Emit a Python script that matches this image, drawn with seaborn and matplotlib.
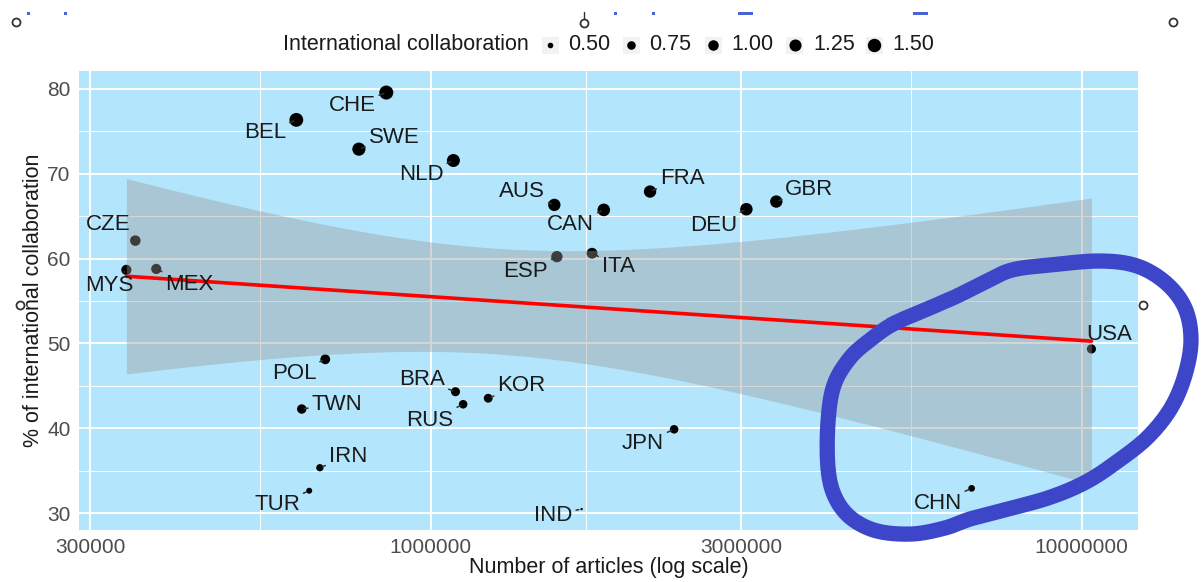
import numpy as np
import pandas as pd
import matplotlib
matplotlib.use("Agg")
import matplotlib.pyplot as plt
from matplotlib.lines import Line2D
from matplotlib.patches import Rectangle
from matplotlib.ticker import FixedLocator, NullFormatter
import seaborn as sns

# ---------------------------------------------------------------- data
countries = ["CHE", "BEL", "SWE", "NLD", "AUS", "CAN", "FRA", "DEU", "GBR",
             "ESP", "ITA", "CZE", "MYS", "MEX", "POL", "TWN", "IRN", "TUR",
             "BRA", "RUS", "KOR", "JPN", "IND", "USA", "CHN"]
articles = [855000, 622000, 776000, 1084000, 1549000, 1845000, 2173000,
            3055000, 3396000, 1563000, 1770000, 352000, 341000, 379000,
            689000, 634000, 676000, 651000, 1092000, 1122000, 1226000,
            2366000, 1706000, 10350000, 6776000]
intl_pct = [79.56, 76.34, 72.89, 71.55, 66.32, 65.73, 67.89, 65.81, 66.71,
            60.22, 60.62, 62.11, 58.66, 58.77, 48.12, 42.26, 35.34, 32.63,
            44.30, 42.82, 43.53, 39.87, 30.47, 49.34, 32.91]
intl_index = [1.62, 1.58, 1.45, 1.42, 1.30, 1.35, 1.30, 1.32, 1.30,
              1.12, 1.05, 1.00, 0.95, 0.95, 0.90, 0.85, 0.62, 0.52,
              0.80, 0.75, 0.78, 0.75, 0.40, 0.82, 0.57]

x_breaks = [300000, 1000000, 3000000, 10000000]
x_break_labels = ["300000", "1000000", "3000000", "10000000"]
y_breaks = [30, 40, 50, 60, 70, 80]
size_breaks = [0.50, 0.75, 1.00, 1.25, 1.50]

df = pd.DataFrame({"country": countries, "articles": articles,
                   "intl_pct": intl_pct, "intl_index": intl_index})

# ---------------------------------------------------------------- layout
W, H = 1201, 582
DPI = 100
PX2PT = 72 / DPI


def fx(px):
    return px / W


def fy(py):
    return 1 - py / H


# label placement relative to each point (pixels, right / down)
label_offsets = {
    "CHE": (-34, 13), "BEL": (-31, 13), "SWE": (35, -12), "NLD": (-32, 14),
    "AUS": (-32, -13), "CAN": (-33, 15), "FRA": (32, -13), "DEU": (-33, 16),
    "GBR": (33, -12), "ESP": (-31, 15), "ITA": (26, 13), "CZE": (-27, -16),
    "MYS": (-17, 16), "MEX": (33, 16), "POL": (-31, 14), "TWN": (35, -5),
    "IRN": (28, -11), "TUR": (-32, 14), "BRA": (-33, -12), "RUS": (-33, 16),
    "KOR": (33, -13), "JPN": (-31, 14), "IND": (-28, 6), "USA": (18, -14),
    "CHN": (-34, 15),
}

PANEL_BG = "#b3e5fc"
TEXT = "#1a1a1a"
TICK_TEXT = "#4d4d4d"

sns.set_style("white", {"axes.facecolor": PANEL_BG})
plt.rcParams["font.family"] = ["Liberation Sans", "DejaVu Sans"]

fig = plt.figure(figsize=(W / DPI, H / DPI), dpi=DPI)
ax = fig.add_axes([fx(79), fy(530), (1138 - 79) / W, (530 - 71) / H])
ax.set_xscale("log")

# point size: ggplot-style area scale (diameter grows with sqrt of value)
vmin, vmax = min(intl_index), max(intl_index)
D_MAX = 14.0
D_MIN = D_MAX / 6


def diameter_px(v):
    t = np.clip((v - vmin) / (vmax - vmin), 0, 1)
    return D_MIN + (D_MAX - D_MIN) * np.sqrt(t)


size_map = {v: (diameter_px(v) * PX2PT) ** 2 for v in sorted(set(intl_index))}

sns.scatterplot(data=df, x="articles", y="intl_pct", size="intl_index",
                sizes=size_map, color="black", edgecolor="none",
                legend=False, ax=ax, zorder=2)

# linear fit of % on log10(articles) with a 95% confidence band
lx = np.log10(df["articles"].to_numpy())
yv = df["intl_pct"].to_numpy()
n = len(lx)
slope, intercept = np.polyfit(lx, yv, 1)
resid = yv - (intercept + slope * lx)
s_err = np.sqrt(np.sum(resid ** 2) / (n - 2))
sxx = np.sum((lx - lx.mean()) ** 2)
T_975 = 2.0687  # Student t quantile, 23 degrees of freedom
grid = np.linspace(lx.min(), lx.max(), 120)
fit = intercept + slope * grid
half = T_975 * s_err * np.sqrt(1 / n + (grid - lx.mean()) ** 2 / sxx)
ax.fill_between(10 ** grid, fit - half, fit + half, color="#999999",
                alpha=0.4, lw=0, zorder=3)
sns.lineplot(x=10 ** grid, y=fit, color="#ff0000", lw=2.6, ax=ax, zorder=4)

# country labels with short leader segments
for name, xa, ya in zip(countries, articles, intl_pct):
    dx, dy = label_offsets[name]
    ax.annotate(name, xy=(xa, ya), xytext=(dx, -dy),
                textcoords="offset pixels", ha="center", va="center",
                fontsize=16, color=TEXT, zorder=5,
                arrowprops=dict(arrowstyle="-", color="#333333", lw=1.1,
                                shrinkA=0, shrinkB=2))

# axes, scales and grid
ax.set_xlim(10 ** 5.460, 10 ** 7.0865)
ax.set_ylim(28.0, 82.1)
ax.xaxis.set_major_locator(FixedLocator(x_breaks))
ax.xaxis.set_ticklabels(x_break_labels)
minor_x = [10 ** ((np.log10(a) + np.log10(b)) / 2)
           for a, b in zip(x_breaks[:-1], x_breaks[1:])]
ax.xaxis.set_minor_locator(FixedLocator(minor_x))
ax.xaxis.set_minor_formatter(NullFormatter())
ax.yaxis.set_major_locator(FixedLocator(y_breaks))
ax.yaxis.set_minor_locator(FixedLocator([35, 45, 55, 65, 75]))
ax.set_axisbelow(True)
ax.grid(which="major", color="white", lw=1.4)
ax.grid(which="minor", color="white", lw=0.7)
for sp in ax.spines.values():
    sp.set_visible(False)
ax.tick_params(which="major", length=4, width=1, color="#333333",
               labelsize=15, labelcolor=TICK_TEXT, pad=2)
ax.tick_params(which="minor", length=0)

ax.set_xlabel("Number of articles (log scale)", fontsize=15.5, color=TEXT)
ax.xaxis.set_label_coords(0.5, (530 - 567) / (530 - 71))
ax.xaxis.label.set_va("center")
ax.set_ylabel("% of international collaboration", fontsize=15.5, color=TEXT)
ax.yaxis.set_label_coords((34 - 79) / (1138 - 79), 0.5)
ax.yaxis.label.set_va("center")

# size legend across the top
LEG_Y = 45
fig.text(fx(283), fy(LEG_Y), "International collaboration", fontsize=15.5,
         color=TEXT, ha="left", va="center")
key_x = [550, 631, 713, 795, 874]
for kx, v in zip(key_x, size_breaks):
    fig.add_artist(Rectangle((fx(kx - 8.5), fy(LEG_Y + 8.5)), 17 / W, 17 / H,
                             transform=fig.transFigure, color="#f2f2f2",
                             lw=0))
    fig.add_artist(Line2D([fx(kx)], [fy(LEG_Y)], transform=fig.transFigure,
                          marker="o", ls="none", color="black",
                          markersize=diameter_px(v) * PX2PT, mew=0))
    fig.text(fx(kx + 18), fy(LEG_Y), f"{v:.2f}", fontsize=15.5, color=TEXT,
             ha="left", va="center")

# hand-drawn highlight loop around the two largest producers
loop = np.array([
    (893, 324), (925, 310), (955, 297), (985, 282), (1012, 270), (1050, 265),
    (1100, 261), (1137, 266), (1166, 283), (1185, 308), (1191, 340),
    (1185, 375), (1171, 408), (1148, 437), (1118, 461), (1086, 482),
    (1048, 498), (1000, 511), (970, 519), (945, 528), (912, 534), (877, 531),
    (851, 518), (835, 497), (828, 468), (828, 422), (834, 385), (850, 358),
    (870, 340)], dtype=float)


def closed_catmull_rom(p, steps=16):
    out = []
    m = len(p)
    for i in range(m):
        p0, p1, p2, p3 = p[i - 1], p[i], p[(i + 1) % m], p[(i + 2) % m]
        for t in np.linspace(0, 1, steps, endpoint=False):
            t2, t3 = t * t, t * t * t
            out.append(0.5 * (2 * p1 + (-p0 + p2) * t
                              + (2 * p0 - 5 * p1 + 4 * p2 - p3) * t2
                              + (-p0 + 3 * p1 - 3 * p2 + p3) * t3))
    out.append(out[0])
    return np.array(out)


curve = closed_catmull_rom(loop)
fig.add_artist(Line2D(fx(curve[:, 0]), fy(curve[:, 1]),
                      transform=fig.transFigure, color="#3d46c8", lw=11,
                      solid_capstyle="round", solid_joinstyle="round",
                      zorder=10))

# selection handles of the embedded picture
handles = [(16, 22), (584, 23), (1173, 22), (20, 305), (1143, 305),
           (20, 587), (584, 587), (1143, 587)]
fig.add_artist(Line2D([fx(584), fx(584)], [fy(12), fy(19)],
                      transform=fig.transFigure, color="#333333", lw=1.0,
                      zorder=11))
for hx, hy in handles:
    fig.add_artist(Line2D([fx(hx)], [fy(hy)], transform=fig.transFigure,
                          marker="o", ls="none", markersize=8 * PX2PT,
                          mfc="white", mec="#333333", mew=1.3, zorder=11))

# bottom edge of the blue heading above the figure
for bx, bw in [(27, 3), (64, 3), (614, 3), (652, 3), (738, 15), (913, 15)]:
    fig.add_artist(Rectangle((fx(bx), fy(15)), bw / W, 3 / H,
                             transform=fig.transFigure, color="#4a63d8",
                             lw=0))

fig.savefig("out.png", dpi=DPI)
